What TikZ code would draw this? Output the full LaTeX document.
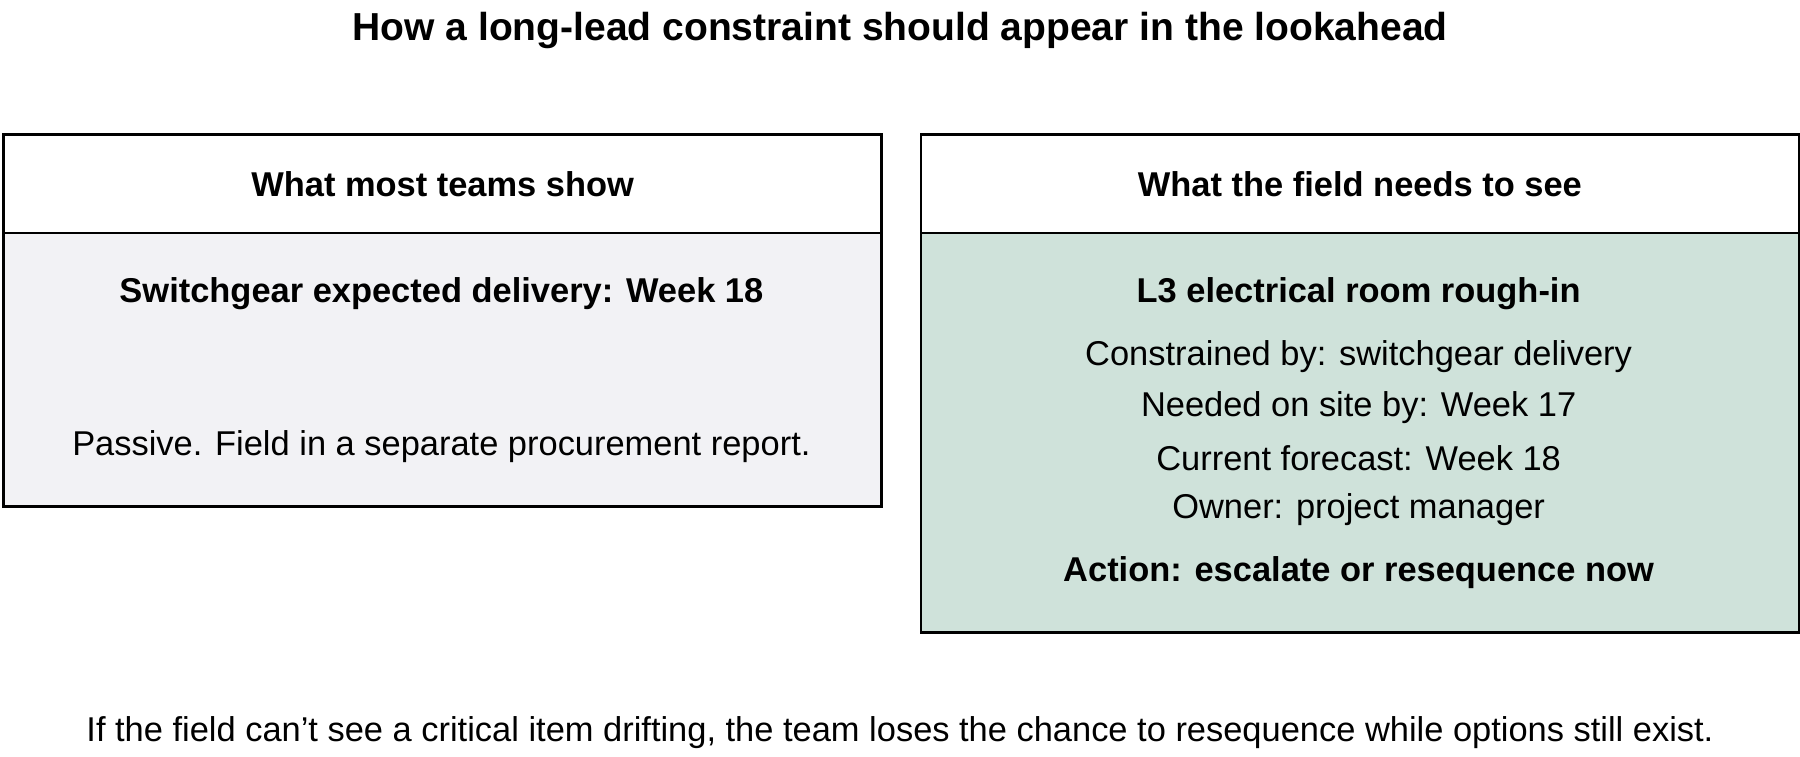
\documentclass[tikz,border=0pt]{standalone}
\usepackage{fontspec}
\setmainfont{Liberation Sans}
\definecolor{grayfill}{HTML}{F2F2F5}
\definecolor{greenfill}{HTML}{CFE2DA}
\tikzset{
  panel/.style={draw=black, line width=1.1pt, minimum width=382.5pt, inner sep=0pt, anchor=north west},
  head/.style={panel, minimum height=43pt, fill=white, font=\fontsize{15}{18}\selectfont\bfseries},
  txt/.style={font=\fontsize{15}{18}\selectfont},
  btxt/.style={font=\fontsize{15}{18}\selectfont\bfseries}
}
\begin{document}
\begin{tikzpicture}[x=0.5pt, y=-0.5pt]
\useasboundingbox (0,0) rectangle (1568,658.6);
\node[font=\fontsize{17}{20}\selectfont\bfseries] (title) at (784,27) {How a long-lead constraint should appear in the lookahead};
% left panel
\node[panel, fill=grayfill, minimum height=119pt] (lbody) at (2,202) {};
\node[head] (lhead) at (2,116) {What most teams show};
\node[btxt] (lkey) at (384.5,256) {Switchgear expected delivery: Week 18};
\node[txt] (lnote) at (384.5,389) {Passive. Field in a separate procurement report.};
% right panel
\node[panel, fill=greenfill, minimum height=174pt] (rbody) at (801,202) {};
\node[head] (rhead) at (801,116) {What the field needs to see};
\node[btxt] (rkey) at (1183.5,256) {L3 electrical room rough-in};
\node[txt] (r1) at (1183.5,311) {Constrained by: switchgear delivery};
\node[txt] (r2) at (1183.5,355) {Needed on site by: Week 17};
\node[txt] (r3) at (1183.5,399) {Current forecast: Week 18};
\node[txt] (r4) at (1183.5,444) {Owner: project manager};
\node[btxt] (ract) at (1183.5,499) {Action: escalate or resequence now};
% footer
\node[txt] (foot) at (784,638) {If the field can't see a critical item drifting, the team loses the chance to resequence while options still exist.};
\end{tikzpicture}
\end{document}
